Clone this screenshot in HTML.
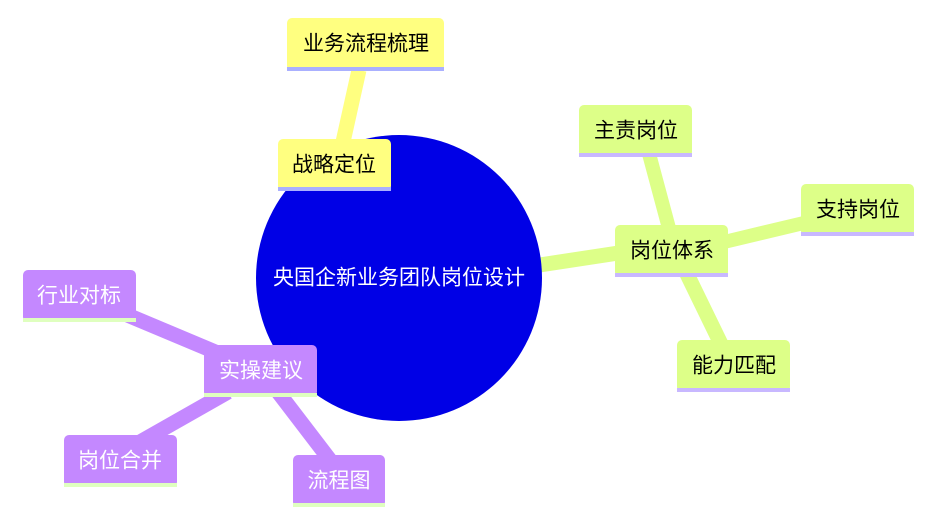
<!DOCTYPE html>
<html><head><meta charset="utf-8"><style>
body{margin:0;background:#fff;width:933px;height:527px;overflow:hidden}
svg text{font-family:"Liberation Sans","Noto Sans CJK SC",sans-serif;font-size:21px;text-anchor:middle;dominant-baseline:central}
</style></head><body>
<svg width="933" height="527" viewBox="0 0 933 527">
<g stroke-linecap="butt">
<line x1="359" y1="70" x2="343" y2="142" stroke="#ffff80" stroke-width="15"/>
<line x1="520" y1="268" x2="625" y2="252" stroke="#ddff88" stroke-width="15"/>
<line x1="648" y1="150" x2="670" y2="232" stroke="#ddff88" stroke-width="14"/>
<line x1="720" y1="243" x2="808" y2="222" stroke="#ddff88" stroke-width="14"/>
<line x1="686" y1="272" x2="722" y2="346" stroke="#ddff88" stroke-width="15"/>
<line x1="125" y1="314" x2="225" y2="356" stroke="#c488ff" stroke-width="15"/>
<line x1="228" y1="392" x2="140" y2="442" stroke="#c488ff" stroke-width="15"/>
<line x1="278" y1="392" x2="330" y2="460" stroke="#c488ff" stroke-width="15"/>
</g>
<circle cx="399" cy="278" r="143" fill="#0000e6"/>
<text x="399" y="278" fill="#fff">央国企新业务团队岗位设计</text>

<g>
<rect x="287" y="18" width="157" height="53" rx="5" fill="#ffff80"/><rect x="287" y="67" width="157" height="4" fill="#aab0ff"/>
<text x="366" y="44" fill="#000">业务流程梳理</text>
<rect x="278" y="139" width="113" height="52" rx="5" fill="#ffff80"/><rect x="278" y="187" width="113" height="4" fill="#aab0ff"/>
<text x="334" y="165" fill="#000">战略定位</text>

<rect x="579" y="105" width="113" height="52" rx="5" fill="#ddff88"/><rect x="579" y="153" width="113" height="4" fill="#c8b8ff"/>
<text x="636" y="131" fill="#000">主责岗位</text>
<rect x="801" y="184" width="113" height="52" rx="5" fill="#ddff88"/><rect x="801" y="232" width="113" height="4" fill="#c8b8ff"/>
<text x="858" y="210" fill="#000">支持岗位</text>
<rect x="615" y="225" width="113" height="52" rx="5" fill="#ddff88"/><rect x="615" y="273" width="113" height="4" fill="#c8b8ff"/>
<text x="672" y="251" fill="#000">岗位体系</text>
<rect x="677" y="340" width="113" height="52" rx="5" fill="#ddff88"/><rect x="677" y="388" width="113" height="4" fill="#c8b8ff"/>
<text x="734" y="366" fill="#000">能力匹配</text>

<rect x="23" y="270" width="113" height="52" rx="5" fill="#c488ff"/><rect x="23" y="318" width="113" height="4" fill="#dfffbf"/>
<text x="79" y="296" fill="#fff">行业对标</text>
<rect x="204" y="345" width="113" height="52" rx="5" fill="#c488ff"/><rect x="204" y="393" width="113" height="4" fill="#dfffbf"/>
<text x="261" y="371" fill="#fff">实操建议</text>
<rect x="64" y="435" width="113" height="52" rx="5" fill="#c488ff"/><rect x="64" y="483" width="113" height="4" fill="#dfffbf"/>
<text x="120" y="461" fill="#fff">岗位合并</text>
<rect x="293" y="455" width="92" height="52" rx="5" fill="#c488ff"/><rect x="293" y="503" width="92" height="4" fill="#dfffbf"/>
<text x="339" y="481" fill="#fff">流程图</text>
</g>
</svg>
</body></html>
